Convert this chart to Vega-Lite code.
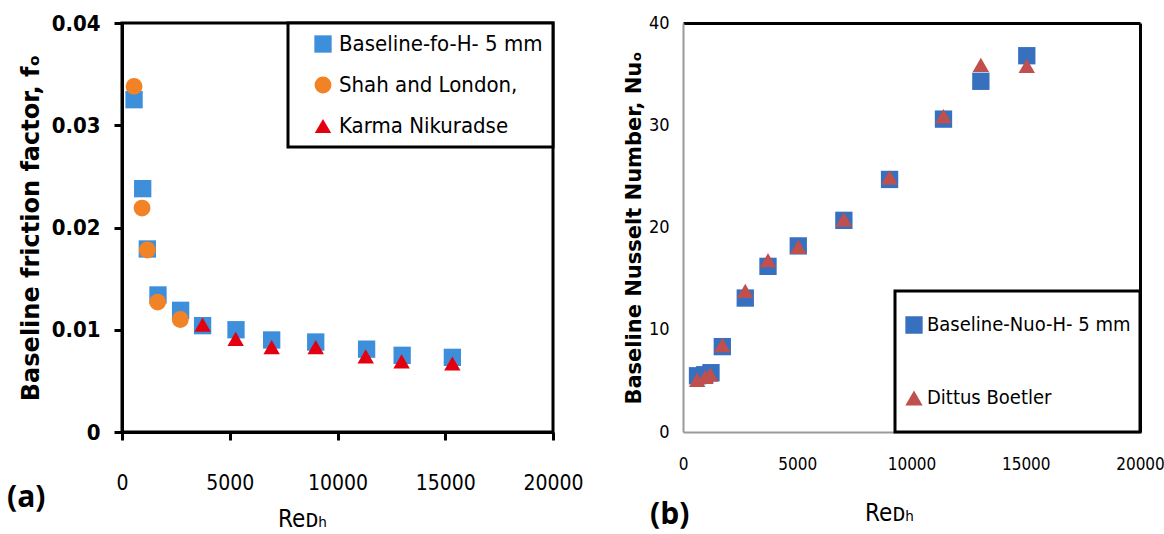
{
  "$schema": "https://vega.github.io/schema/vega-lite/v6.json",
  "background": "white",
  "padding": {"left": 5, "top": 10, "right": 0, "bottom": 0},
  "spacing": 38,
  "config": {
    "legend": {"strokeColor": "black", "strokeWidth": 3, "fillColor": "white"},
    "axis": {"grid": false}
  },
  "resolve": {"scale": {"color": "independent", "shape": "independent", "size": "independent", "x": "independent", "y": "independent"}, "legend": {"color": "independent", "shape": "independent"}},
  "hconcat": [
    {
      "width": 431,
      "height": 409,
      "view": {"stroke": "black", "strokeWidth": 3},
      "title": {"text": "(a)", "orient": "bottom", "anchor": "start", "frame": "group", "font": "Open Sans", "fontSize": 30, "fontWeight": "bold", "color": "black", "dx": -115, "dy": -52},
      "data": {"values": [
        {"Re": 560, "val": 0.0325, "series": "Baseline-fo-H- 5 mm"},
        {"Re": 960, "val": 0.0238, "series": "Baseline-fo-H- 5 mm"},
        {"Re": 1175, "val": 0.0179, "series": "Baseline-fo-H- 5 mm"},
        {"Re": 1670, "val": 0.0134, "series": "Baseline-fo-H- 5 mm"},
        {"Re": 2720, "val": 0.0119, "series": "Baseline-fo-H- 5 mm"},
        {"Re": 3740, "val": 0.0104, "series": "Baseline-fo-H- 5 mm"},
        {"Re": 5290, "val": 0.0100, "series": "Baseline-fo-H- 5 mm"},
        {"Re": 6945, "val": 0.0090, "series": "Baseline-fo-H- 5 mm"},
        {"Re": 8990, "val": 0.0088, "series": "Baseline-fo-H- 5 mm"},
        {"Re": 11350, "val": 0.0081, "series": "Baseline-fo-H- 5 mm"},
        {"Re": 13000, "val": 0.0075, "series": "Baseline-fo-H- 5 mm"},
        {"Re": 15330, "val": 0.0073, "series": "Baseline-fo-H- 5 mm"},
        {"Re": 560, "val": 0.0338, "series": "Shah and London,"},
        {"Re": 930, "val": 0.0219, "series": "Shah and London,"},
        {"Re": 1175, "val": 0.0178, "series": "Shah and London,"},
        {"Re": 1655, "val": 0.0127, "series": "Shah and London,"},
        {"Re": 2705, "val": 0.0110, "series": "Shah and London,"},
        {"Re": 3740, "val": 0.0105, "series": "Karma Nikuradse"},
        {"Re": 5275, "val": 0.0091, "series": "Karma Nikuradse"},
        {"Re": 6945, "val": 0.0083, "series": "Karma Nikuradse"},
        {"Re": 8990, "val": 0.0083, "series": "Karma Nikuradse"},
        {"Re": 11310, "val": 0.0074, "series": "Karma Nikuradse"},
        {"Re": 12975, "val": 0.0069, "series": "Karma Nikuradse"},
        {"Re": 15330, "val": 0.0067, "series": "Karma Nikuradse"}
      ]},
      "mark": {"type": "point", "filled": true, "opacity": 1},
      "encoding": {
        "x": {
          "field": "Re", "type": "quantitative",
          "scale": {"domain": [0, 20000], "nice": false, "zero": false},
          "axis": {
            "values": [0, 5000, 10000, 15000, 20000], "format": "d",
            "domainColor": "black", "domainWidth": 3,
            "tickColor": "black", "tickWidth": 3, "tickSize": 8,
            "labelFont": "DejaVu Sans Condensed, Roboto, sans-serif", "labelFontSize": 21, "labelColor": "black", "labelPadding": 32,
            "labelFlush": false, "labelOverlap": false,
            "title": "Reᴅₕ", "titleFont": "DejaVu Sans Condensed, Roboto, sans-serif", "titleFontSize": 24, "titleFontWeight": "normal",
            "titleColor": "black", "titlePadding": 14, "titleX": 180
          }
        },
        "y": {
          "field": "val", "type": "quantitative",
          "scale": {"domain": [0, 0.04], "nice": false},
          "axis": {
            "values": [0, 0.01, 0.02, 0.03, 0.04],
            "labelExpr": "datum.value == 0 ? '0' : format(datum.value, '.2f')",
            "domainColor": "black", "domainWidth": 3,
            "tickColor": "black", "tickWidth": 3, "tickSize": 8,
            "labelFont": "DejaVu Sans Condensed, Roboto, sans-serif", "labelFontSize": 22, "labelFontWeight": "bold", "labelColor": "black", "labelPadding": 14,
            "labelFlush": false, "labelOverlap": false,
            "title": "Baseline friction factor, fₒ", "titleFont": "DejaVu Sans", "titleFontSize": 24, "titleFontWeight": "bold",
            "titleColor": "black", "titlePadding": 8
          }
        },
        "color": {
          "field": "series", "type": "nominal",
          "scale": {"domain": ["Baseline-fo-H- 5 mm", "Shah and London,", "Karma Nikuradse"], "range": ["#3d8fdb", "#f28226", "#e3000f"]},
          "legend": {
            "title": null, "orient": "top-right", "offset": 0, "padding": 10,
            "labelFont": "DejaVu Sans Condensed, Roboto, sans-serif", "labelFontSize": 22, "labelColor": "black",
            "symbolSize": 300, "rowPadding": 19, "symbolOffset": 14, "labelOffset": 5, "labelLimit": 400
          }
        },
        "shape": {
          "field": "series", "type": "nominal",
          "scale": {"domain": ["Baseline-fo-H- 5 mm", "Shah and London,", "Karma Nikuradse"], "range": ["square", "circle", "triangle-up"]}
        },
        "size": {
          "field": "series", "type": "nominal",
          "scale": {"domain": ["Baseline-fo-H- 5 mm", "Shah and London,", "Karma Nikuradse"], "range": [300, 270, 250]},
          "legend": null
        }
      }
    },
    {
      "width": 457,
      "height": 409,
      "view": {"stroke": null},
      "title": {"text": "(b)", "orient": "bottom", "anchor": "start", "frame": "group", "font": "Open Sans", "fontSize": 30, "fontWeight": "bold", "color": "black", "dx": -33, "dy": -29},
      "data": {"values": [
        {"Re": 635, "val": 5.5, "series": "Baseline-Nuo-H- 5 mm"},
        {"Re": 950, "val": 5.6, "series": "Baseline-Nuo-H- 5 mm"},
        {"Re": 1225, "val": 5.8, "series": "Baseline-Nuo-H- 5 mm"},
        {"Re": 1720, "val": 8.35, "series": "Baseline-Nuo-H- 5 mm"},
        {"Re": 2725, "val": 13.1, "series": "Baseline-Nuo-H- 5 mm"},
        {"Re": 3720, "val": 16.2, "series": "Baseline-Nuo-H- 5 mm"},
        {"Re": 5045, "val": 18.2, "series": "Baseline-Nuo-H- 5 mm"},
        {"Re": 7040, "val": 20.7, "series": "Baseline-Nuo-H- 5 mm"},
        {"Re": 9040, "val": 24.7, "series": "Baseline-Nuo-H- 5 mm"},
        {"Re": 11400, "val": 30.6, "series": "Baseline-Nuo-H- 5 mm"},
        {"Re": 13035, "val": 34.3, "series": "Baseline-Nuo-H- 5 mm"},
        {"Re": 15045, "val": 36.8, "series": "Baseline-Nuo-H- 5 mm"},
        {"Re": 620, "val": 5.1, "series": "Dittus Boetler"},
        {"Re": 975, "val": 5.4, "series": "Dittus Boetler"},
        {"Re": 1195, "val": 5.6, "series": "Dittus Boetler"},
        {"Re": 1720, "val": 8.5, "series": "Dittus Boetler"},
        {"Re": 2725, "val": 13.8, "series": "Dittus Boetler"},
        {"Re": 3720, "val": 16.8, "series": "Dittus Boetler"},
        {"Re": 5045, "val": 18.1, "series": "Dittus Boetler"},
        {"Re": 7040, "val": 20.8, "series": "Dittus Boetler"},
        {"Re": 9040, "val": 24.9, "series": "Dittus Boetler"},
        {"Re": 11400, "val": 30.9, "series": "Dittus Boetler"},
        {"Re": 13035, "val": 35.9, "series": "Dittus Boetler"},
        {"Re": 15045, "val": 35.8, "series": "Dittus Boetler"}
      ]},
      "resolve": {"axis": {"x": "independent", "y": "independent"}},
      "layer": [
        {
          "transform": [{"filter": "datum.series == 'Baseline-Nuo-H- 5 mm'"}],
          "mark": {"type": "point", "filled": true, "opacity": 1, "size": 300},
          "encoding": {
            "x": {
              "field": "Re", "type": "quantitative",
              "scale": {"domain": [0, 20000], "nice": false, "zero": false},
              "axis": {
                "orient": "bottom",
                "values": [0, 5000, 10000, 15000, 20000], "format": "d",
                "domainColor": "#9a9a9a", "domainWidth": 2, "ticks": false,
                "labelFont": "DejaVu Sans Condensed, Roboto, sans-serif", "labelFontSize": 17, "labelColor": "black", "labelPadding": 24,
                "labelFlush": false, "labelOverlap": false,
                "title": "Reᴅₕ", "titleFont": "DejaVu Sans Condensed, Roboto, sans-serif", "titleFontSize": 24, "titleFontWeight": "normal",
                "titleColor": "black", "titlePadding": 29, "titleX": 206
              }
            },
            "y": {
              "field": "val", "type": "quantitative",
              "scale": {"domain": [0, 40], "nice": false},
              "axis": {
                "orient": "left",
                "values": [0, 10, 20, 30, 40],
                "domainColor": "#9a9a9a", "domainWidth": 2, "ticks": false,
                "labelFont": "DejaVu Sans Condensed, Roboto, sans-serif", "labelFontSize": 18, "labelColor": "black", "labelPadding": 14,
                "labelFlush": false, "labelOverlap": false,
                "title": "Baseline Nusselt Number, Nuₒ", "titleFont": "DejaVu Sans", "titleFontSize": 21, "titleFontWeight": "bold",
                "titleColor": "black", "titlePadding": 4
              }
            },
            "color": {
              "field": "series", "type": "nominal",
              "scale": {"domain": ["Baseline-Nuo-H- 5 mm", "Dittus Boetler"], "range": ["#3870c0", "#c0504d"]},
              "legend": {
                "title": null, "orient": "bottom-right", "offset": 0, "padding": 9,
                "labelFont": "DejaVu Sans Condensed, Roboto, sans-serif", "labelFontSize": 20, "labelColor": "black",
                "symbolSize": 300, "clipHeight": 50, "rowPadding": 23, "labelOffset": 3, "labelLimit": 400
              }
            },
            "shape": {
              "field": "series", "type": "nominal",
              "scale": {"domain": ["Baseline-Nuo-H- 5 mm", "Dittus Boetler"], "range": ["square", "triangle-up"]}
            }
          }
        },
        {
          "transform": [{"filter": "datum.series == 'Dittus Boetler'"}],
          "mark": {"type": "point", "filled": true, "opacity": 1, "size": 270},
          "encoding": {
            "x": {
              "field": "Re", "type": "quantitative",
              "axis": {"orient": "top", "values": [0, 5000, 10000, 15000, 20000], "domainColor": "black", "domainWidth": 3, "ticks": false, "labels": false, "title": null}
            },
            "y": {
              "field": "val", "type": "quantitative",
              "axis": {"orient": "right", "values": [0, 10, 20, 30, 40], "domainColor": "black", "domainWidth": 3, "ticks": false, "labels": false, "title": null}
            },
            "color": {"field": "series", "type": "nominal"},
            "shape": {"field": "series", "type": "nominal"}
          }
        }
      ]
    }
  ]
}
